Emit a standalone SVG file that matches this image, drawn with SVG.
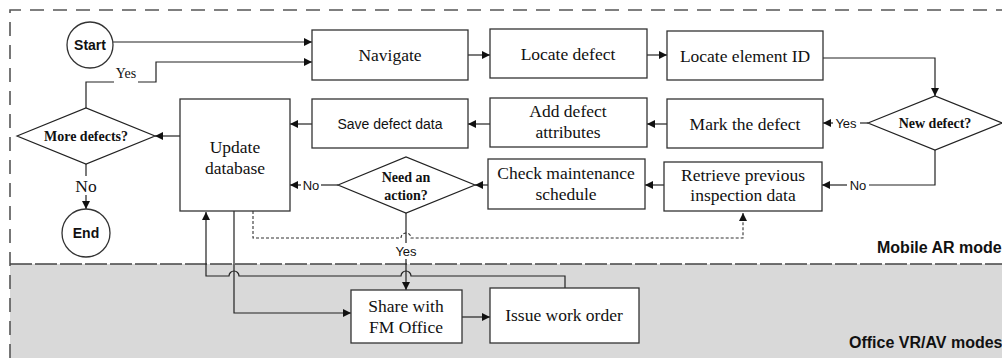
<svg xmlns="http://www.w3.org/2000/svg" width="1002" height="358" viewBox="0 0 1002 358">
  <style>
    .box { fill: #fff; stroke: #333; stroke-width: 1.3; }
    .dia { fill: #fff; stroke: #222; stroke-width: 1.2; }
    .ln { fill: none; stroke: #222; stroke-width: 1.2; }
    .arr { fill: none; stroke: #222; stroke-width: 1.2; marker-end: url(#ah); }
    .dot { fill: none; stroke: #333; stroke-width: 1.1; stroke-dasharray: 3 2; }
    .serif { font-family: "Liberation Serif", "Times New Roman", serif; font-size: 17.5px; fill: #111; text-anchor: middle; }
    .sans { font-family: "Liberation Sans", Arial, sans-serif; font-size: 14px; fill: #111; text-anchor: middle; }
    .dtxt { font-family: "Liberation Serif", "Times New Roman", serif; font-size: 14px; font-weight: bold; fill: #111; text-anchor: middle; }
    .term { font-family: "Liberation Sans", Arial, sans-serif; font-size: 14px; font-weight: bold; fill: #111; text-anchor: middle; }
    .lbl { font-family: "Liberation Sans", Arial, sans-serif; font-size: 13px; fill: #111; text-anchor: middle; }
    .lbls { font-family: "Liberation Serif", "Times New Roman", serif; font-size: 14px; fill: #111; text-anchor: middle; }
    .mode { font-family: "Liberation Sans", Arial, sans-serif; font-size: 16px; font-weight: bold; fill: #111; }
  </style>
  <defs>
    <marker id="ah" viewBox="0 0 10 10" refX="10" refY="5" markerWidth="8" markerHeight="8" markerUnits="userSpaceOnUse" orient="auto">
      <path d="M0,0 L10,5 L0,10 z" fill="#111"/>
    </marker>
  </defs>

  <!-- lanes -->
  <g id="lanes">
    <rect x="10" y="264" width="992" height="94" fill="#d9d9d9"/>
    <path d="M10,358 V10 H1002" fill="none" stroke="#555" stroke-width="1.6" stroke-dasharray="14 9"/>
    <line x1="10" y1="264" x2="1002" y2="264" stroke="#444" stroke-width="1.6" stroke-dasharray="22 3"/>
    <text class="mode" x="877" y="253">Mobile AR mode</text>
    <text class="mode" x="849" y="348">Office VR/AV modes</text>
  </g>

  <!-- connectors -->
  <g id="connectors">
    <path class="arr" d="M113,42 H312"/>
    <path class="ln" d="M86,108 V82 H114"/>
    <path class="arr" d="M138,82 H156 V62 H312"/>
    <text class="lbls" x="126" y="78">Yes</text>
    <path class="arr" d="M468,55 H490"/>
    <path class="arr" d="M647,55 H667"/>
    <path class="arr" d="M823,58 H935 V96"/>
    <path class="ln" d="M868,123 H860"/>
    <path class="arr" d="M833,123 H823"/>
    <text class="lbl" x="846" y="128">Yes</text>
    <path class="arr" d="M667,124 H647"/>
    <path class="arr" d="M490,124 H468"/>
    <path class="arr" d="M312,124 H290"/>
    <path class="arr" d="M180,136 H155"/>
    <path class="ln" d="M86,164 V176"/>
    <text class="lbls" x="86" y="192" style="font-size:17.5px">No</text>
    <path class="arr" d="M86,195 V209"/>
    <path class="ln" d="M935,150 V185 H869"/>
    <text class="lbl" x="858" y="190">No</text>
    <path class="arr" d="M847,185 H822"/>
    <path class="arr" d="M664,185 H645"/>
    <path class="arr" d="M488,185 H475"/>
    <path class="ln" d="M338,185 H321"/>
    <text class="lbl" x="311" y="190">No</text>
    <path class="arr" d="M301,185 H290"/>
    <!-- dotted return path with hop -->
    <path class="dot" d="M253,211 V238 H401 A5,5 0 0 1 411,238 H743 V213" marker-end="url(#ah)"/>
    <path class="ln" d="M406,213 V243"/>
    <text class="lbl" x="406" y="256">Yes</text>
    <path class="arr" d="M406,259 V290"/>
    <!-- office loop back to database -->
    <path class="arr" d="M565,288 V276 H411 A5,5 0 0 0 401,276 H239 A5,5 0 0 0 229,276 H206 V212"/>
    <path class="arr" d="M234,211 V313 H351"/>
    <path class="arr" d="M462,317 H490"/>
  </g>

  <!-- nodes -->
  <g id="start"><circle cx="90" cy="45" r="23" class="box"/><text class="term" x="90" y="50">Start</text></g>
  <g id="navigate"><rect x="312" y="30" width="156" height="50" class="box"/><text class="serif" x="390" y="61">Navigate</text></g>
  <g id="locate-defect"><rect x="490" y="29" width="157" height="49" class="box"/><text class="serif" x="568" y="60">Locate defect</text></g>
  <g id="locate-element"><rect x="667" y="31" width="156" height="49" class="box"/><text class="serif" x="745" y="62">Locate element ID</text></g>
  <g id="new-defect"><polygon points="868,123 935,96 1002,123 935,150" class="dia"/><text class="dtxt" x="935" y="128">New defect?</text></g>
  <g id="mark-defect"><rect x="667" y="99" width="156" height="49" class="box"/><text class="serif" x="745" y="130">Mark the defect</text></g>
  <g id="add-attributes"><rect x="490" y="98" width="157" height="49" class="box"/><text class="serif" x="568" y="117">Add defect</text><text class="serif" x="568" y="138">attributes</text></g>
  <g id="save-data"><rect x="312" y="99" width="156" height="49" class="box"/><text class="sans" x="390" y="129">Save defect data</text></g>
  <g id="update-db"><rect x="180" y="99" width="110" height="112" class="box"/><text class="serif" x="235" y="153">Update</text><text class="serif" x="235" y="174">database</text></g>
  <g id="more-defects"><polygon points="17,136 86,108 155,136 86,164" class="dia"/><text class="dtxt" x="86" y="141">More defects?</text></g>
  <g id="end"><circle cx="86" cy="233" r="24" class="box"/><text class="term" x="86" y="238">End</text></g>
  <g id="retrieve"><rect x="664" y="162" width="158" height="49" class="box"/><text class="serif" x="743" y="181">Retrieve previous</text><text class="serif" x="743" y="201">inspection data</text></g>
  <g id="check-schedule"><rect x="488" y="159" width="157" height="50" class="box"/><text class="serif" x="566" y="179">Check maintenance</text><text class="serif" x="566" y="200">schedule</text></g>
  <g id="need-action"><polygon points="338,185 406,157 475,185 406,213" class="dia"/><text class="dtxt" x="406" y="182">Need an</text><text class="dtxt" x="406" y="200">action?</text></g>
  <g id="share-fm"><rect x="351" y="290" width="111" height="53" class="box"/><text class="serif" x="406" y="312">Share with</text><text class="serif" x="406" y="333">FM Office</text></g>
  <g id="work-order"><rect x="490" y="288" width="149" height="55" class="box"/><text class="serif" x="564" y="321">Issue work order</text></g>
</svg>
